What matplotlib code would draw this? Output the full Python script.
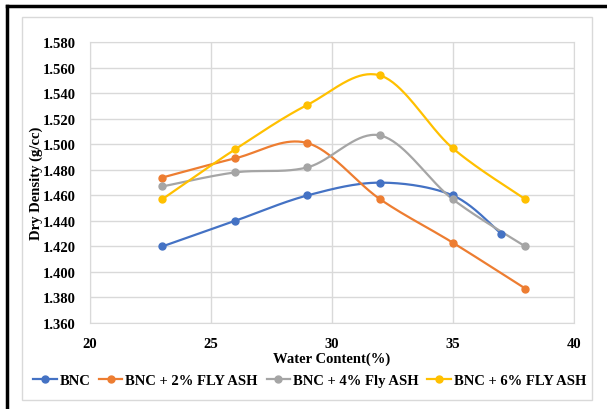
import numpy as np
import matplotlib
matplotlib.use("Agg")
from matplotlib import pyplot as plt
from matplotlib.lines import Line2D
from matplotlib.patches import Rectangle

water = [23, 26, 29, 32, 35, 38]
water_bnc = [23, 26, 29, 32, 35, 37]
bnc = [1.420, 1.440, 1.460, 1.470, 1.460, 1.430]
bnc_2 = [1.474, 1.489, 1.501, 1.457, 1.423, 1.387]
bnc_4 = [1.467, 1.478, 1.482, 1.507, 1.457, 1.420]
bnc_6 = [1.457, 1.496, 1.531, 1.554, 1.497, 1.457]
labels = ["BNC", "BNC + 2% FLY ASH", "BNC + 4% Fly ASH", "BNC + 6% FLY ASH"]
colors = ["#4472C4", "#ED7D31", "#A5A5A5", "#FFC000"]

plt.rcParams['font.family'] = ['Liberation Serif', 'DejaVu Serif']
plt.rcParams['font.weight'] = 'bold'


def smooth(x, y, n=40):
    # excel-like smoothed line (bezier through the points)
    x = np.asarray(x, float)
    y = np.asarray(y, float)
    px = np.concatenate([[x[0]], x, [x[-1]]])
    py = np.concatenate([[y[0]], y, [y[-1]]])
    xs, ys = [], []
    t = np.linspace(0, 1, n)
    for i in range(1, len(px) - 2):
        p0 = np.array([px[i - 1], py[i - 1]])
        p1 = np.array([px[i], py[i]])
        p2 = np.array([px[i + 1], py[i + 1]])
        p3 = np.array([px[i + 2], py[i + 2]])
        c1 = p1 + (p2 - p0) / 6
        c2 = p2 - (p3 - p1) / 6
        b = ((1 - t) ** 3)[:, None] * p1 + (3 * (1 - t) ** 2 * t)[:, None] * c1 \
            + (3 * (1 - t) * t ** 2)[:, None] * c2 + (t ** 3)[:, None] * p2
        xs.extend(b[:, 0])
        ys.extend(b[:, 1])
    return xs, ys


fig = plt.figure(figsize=(6.07, 4.10), dpi=100)
ax = fig.add_axes([0.1478, 0.2098, 0.7973, 0.6846])

series = [(water_bnc, bnc), (water, bnc_2), (water, bnc_4), (water, bnc_6)]
for (xv, yv), lab, c in zip(series, labels, colors):
    sx, sy = smooth(xv, yv)
    ax.plot(sx, sy, color=c, lw=1.6, zorder=3)
    ax.plot(xv, yv, 'o', color=c, ms=5, zorder=4)

ax.set_xlim(20, 40)
ax.set_ylim(1.36, 1.58)
ax.set_xticks([20, 25, 30, 35, 40])
ax.set_yticks(np.arange(1.36, 1.5801, 0.02))
ax.set_yticklabels(["%.3f" % v for v in np.arange(1.36, 1.5801, 0.02)])
ax.grid(True, color="#d9d9d9", lw=1)
ax.set_axisbelow(True)
for s in ax.spines.values():
    s.set_color("#d9d9d9")
ax.tick_params(length=0, labelsize=10.5, pad=10)
for lbl in ax.get_xticklabels() + ax.get_yticklabels():
    lbl.set_fontweight('bold')
ax.set_xlabel("Water Content(%)", fontsize=10.5, fontweight='bold')
ax.set_ylabel("Dry Density (g/cc)", fontsize=10.5, fontweight='bold')
ax.xaxis.set_label_coords(0.5, -0.10)
ax.yaxis.set_label_coords(-0.097, 0.5)

handles = [Line2D([], [], color=c, lw=1.6, marker='o', ms=5) for c in colors]
fig.legend(handles, labels, loc='center', bbox_to_anchor=(0.51, 0.07), ncol=4,
           frameon=False, fontsize=10.5, handlelength=1.6, handletextpad=0.2,
           columnspacing=0.6)

# chart area border and outer black frame
fig.add_artist(Rectangle((22 / 607, 1 - 401 / 410), (592 - 22) / 607, (401 - 18) / 410,
                         transform=fig.transFigure, fill=False, ec="#d9d9d9", lw=1))
fig.add_artist(Line2D([7 / 607, 7 / 607], [0, 1 - 7 / 410], transform=fig.transFigure,
                      color="black", lw=2.5))
fig.add_artist(Line2D([7 / 607, 1], [1 - 7 / 410, 1 - 7 / 410], transform=fig.transFigure,
                      color="black", lw=2.5))

fig.savefig("out.png", dpi=100)
